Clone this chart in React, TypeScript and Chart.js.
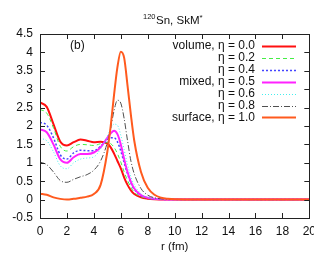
import React, { useEffect, useRef } from "react";
import { Chart, registerables } from "chart.js";

Chart.register(...registerables);

const R = [0, 0.5, 1, 1.5, 2, 2.5, 3, 3.5, 4, 4.5, 5, 5.25, 5.5, 5.75, 6, 6.25, 6.5, 6.75, 7, 7.5, 8, 8.5, 9, 9.5, 10, 12, 14, 16, 18, 20];

const eta00 = [2.64, 2.52, 2.05, 1.58, 1.47, 1.56, 1.63, 1.6, 1.56, 1.57, 1.52, 1.42, 1.25, 1.05, 0.85, 0.6, 0.4, 0.25, 0.15, 0.06, 0.025, 0.01, 0.005, 0.002, 0, 0, 0, 0, 0, 0];
const eta02 = [2.45, 2.35, 1.95, 1.45, 1.32, 1.44, 1.5, 1.49, 1.47, 1.52, 1.55, 1.52, 1.42, 1.25, 1.02, 0.75, 0.52, 0.34, 0.2, 0.08, 0.03, 0.012, 0.005, 0.002, 0, 0, 0, 0, 0, 0];
const eta04 = [2.1, 2.02, 1.68, 1.22, 1.1, 1.27, 1.34, 1.33, 1.33, 1.45, 1.63, 1.68, 1.68, 1.57, 1.32, 1.0, 0.7, 0.45, 0.28, 0.11, 0.045, 0.018, 0.007, 0.003, 0, 0, 0, 0, 0, 0];
const eta05 = [1.91, 1.83, 1.5, 1.1, 1.0, 1.15, 1.24, 1.24, 1.28, 1.42, 1.68, 1.8, 1.87, 1.78, 1.5, 1.1, 0.75, 0.48, 0.3, 0.12, 0.05, 0.02, 0.01, 0.004, 0, 0, 0, 0, 0, 0];
const eta06 = [1.66, 1.6, 1.3, 0.92, 0.84, 1.0, 1.1, 1.13, 1.16, 1.38, 1.72, 1.93, 2.05, 2.02, 1.75, 1.35, 0.95, 0.62, 0.4, 0.16, 0.06, 0.025, 0.01, 0.003, 0, 0, 0, 0, 0, 0];
const eta08 = [1.02, 0.95, 0.75, 0.52, 0.47, 0.55, 0.62, 0.68, 0.8, 1.05, 1.55, 1.95, 2.42, 2.7, 2.62, 2.2, 1.6, 1.05, 0.7, 0.3, 0.12, 0.05, 0.02, 0.008, 0.002, 0, 0, 0, 0, 0];
const eta10 = [0.16, 0.13, 0.06, 0.02, 0.0, 0.02, 0.05, 0.08, 0.15, 0.4, 1.3, 2.0, 2.85, 3.6, 4.02, 3.85, 3.1, 2.3, 1.6, 0.75, 0.32, 0.13, 0.05, 0.02, 0.007, 0, 0, 0, 0, 0];

const LABELS = ["volume, η = 0.0", "η = 0.2", "η = 0.4", "mixed, η = 0.5", "η = 0.6", "η = 0.8", "surface, η = 1.0"];
const SERIES = [eta00, eta02, eta04, eta05, eta06, eta08, eta10];
const COLORS = ["#ff1010", "#44ee44", "#4444ff", "#ff22ff", "#44eeee", "#505050", "#ff5a1e"];
const WIDTHS = [2, 1, 1.5, 2, 1, 1, 2];
const DASHES: number[][] = [[], [4, 3], [2, 2], [], [1, 2], [6, 2, 1, 2], []];

const X_TICKS = [0, 2, 4, 6, 8, 10, 12, 14, 16, 18, 20];
const Y_TICKS = [-0.5, 0, 0.5, 1, 1.5, 2, 2.5, 3, 3.5, 4, 4.5];

const FONT = "'Liberation Sans', Arial, sans-serif";

export default function App() {
  const ref = useRef<HTMLCanvasElement | null>(null);

  useEffect(() => {
    if (!ref.current) return;
    const extras = {
      id: "extras",
      afterDraw(chart: any) {
        const ctx = chart.ctx;
        const { left, right, top, bottom } = chart.chartArea;
        const xs = chart.scales.x;
        const ys = chart.scales.y;
        ctx.save();
        ctx.strokeStyle = "#222";
        ctx.lineWidth = 1;
        ctx.setLineDash([]);
        ctx.beginPath();
        for (const v of X_TICKS) {
          const px = Math.round(xs.getPixelForValue(v)) + 0.5;
          ctx.moveTo(px, bottom);
          ctx.lineTo(px, bottom - 5);
          ctx.moveTo(px, top);
          ctx.lineTo(px, top + 5);
        }
        for (const v of Y_TICKS) {
          const py = Math.round(ys.getPixelForValue(v)) + 0.5;
          ctx.moveTo(left, py);
          ctx.lineTo(left + 5, py);
          ctx.moveTo(right, py);
          ctx.lineTo(right - 5, py);
        }
        ctx.stroke();
        ctx.strokeRect(Math.round(left) + 0.5, Math.round(top) + 0.5, Math.round(right - left), Math.round(bottom - top));

        // legend
        ctx.fillStyle = "#111";
        ctx.font = `12px ${FONT}`;
        ctx.textBaseline = "middle";
        ctx.textAlign = "right";
        for (let i = 0; i < LABELS.length; i++) {
          const y = 46 + i * 11.9;
          ctx.fillText(LABELS[i], 255, y);
          ctx.save();
          ctx.strokeStyle = COLORS[i];
          ctx.lineWidth = WIDTHS[i];
          ctx.setLineDash(DASHES[i]);
          ctx.beginPath();
          ctx.moveTo(262, Math.round(y) + 0.5);
          ctx.lineTo(296, Math.round(y) + 0.5);
          ctx.stroke();
          ctx.restore();
        }
        // (b)
        ctx.textAlign = "left";
        ctx.fillText("(b)", 70, 46);

        // title
        let x = 143;
        const ty = 21;
        ctx.font = `7.5px ${FONT}`;
        ctx.fillText("120", x, ty - 4);
        x += ctx.measureText("120").width + 0.5;
        ctx.font = `11.5px ${FONT}`;
        ctx.fillText("Sn, SkM", x, ty);
        x += ctx.measureText("Sn, SkM").width;
        ctx.font = `8px ${FONT}`;
        ctx.fillText("*", x, ty - 3);

        // x title
        ctx.font = `11.5px ${FONT}`;
        ctx.textAlign = "center";
        ctx.fillText("r (fm)", (left + right) / 2, 247);
        ctx.restore();
      },
    };

    const chart = new Chart(ref.current, {
      type: "line",
      data: {
        datasets: SERIES.map((s, i) => ({
          label: LABELS[i],
          data: R.map((r, j) => ({ x: r, y: s[j] })),
          borderColor: COLORS[i],
          borderWidth: WIDTHS[i],
          borderDash: DASHES[i],
          pointRadius: 0,
          fill: false,
          cubicInterpolationMode: "monotone" as const,
          order: SERIES.length - i,
        })),
      },
      options: {
        animation: false,
        responsive: false,
        devicePixelRatio: 1,
        layout: { padding: { top: 34, right: 12, left: 0, bottom: 0 } },
        plugins: { legend: { display: false }, tooltip: { enabled: false }, title: { display: false } },
        scales: {
          x: {
            type: "linear",
            min: 0,
            max: 20,
            afterFit: (s: any) => { s.height = 38; },
            afterBuildTicks: (s: any) => { s.ticks = X_TICKS.map((v) => ({ value: v })); },
            grid: { display: false, drawTicks: false },
            border: { display: false },
            ticks: { color: "#111", font: { family: FONT, size: 12 }, padding: 6, maxRotation: 0, autoSkip: false, callback: (v: any) => String(v) },
          },
          y: {
            type: "linear",
            min: -0.5,
            max: 4.5,
            afterFit: (s: any) => { s.width = 40; },
            afterBuildTicks: (s: any) => { s.ticks = Y_TICKS.map((v) => ({ value: v })); },
            grid: { display: false, drawTicks: false },
            border: { display: false },
            ticks: { color: "#111", font: { family: FONT, size: 12 }, padding: 7, autoSkip: false, callback: (v: any) => String(v) },
          },
        },
      },
      plugins: [extras],
    });
    return () => chart.destroy();
  }, []);

  return (
    <div style={{ position: "fixed", left: 0, top: 0, width: 314, height: 256, overflow: "hidden", background: "#fff" }}>
      <canvas ref={ref} width={322} height={256} style={{ width: 322, height: 256, display: "block" }} />
    </div>
  );
}
